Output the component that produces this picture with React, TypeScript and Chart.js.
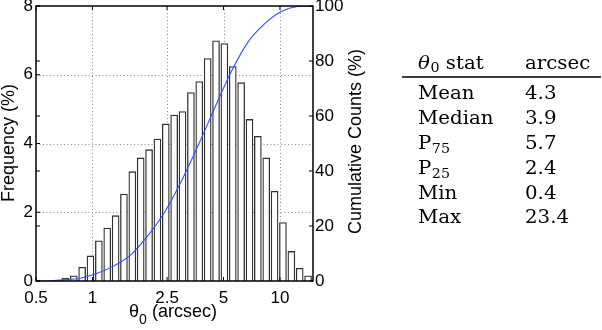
import React, { useEffect, useRef } from 'react';
import { Chart, registerables } from 'chart.js';

Chart.register(...registerables);

// Histogram bins (log-spaced bin centres, arcsec) and frequency (%)
const binCenters = [
  0.717, 0.795, 0.881, 0.976, 1.082, 1.199, 1.329, 1.472, 1.632, 1.808,
  2.004, 2.221, 2.461, 2.727, 3.022, 3.35, 3.712, 4.114, 4.56, 5.053,
  5.6, 6.206, 6.878, 7.621, 8.446, 9.359, 10.37, 11.5, 12.74, 14.12,
];
const frequency = [
  0.08, 0.15, 0.4, 0.73, 1.17, 1.54, 1.9, 2.53, 3.18, 3.58,
  3.82, 4.13, 4.57, 4.83, 4.93, 5.48, 5.8, 6.47, 6.99, 6.91,
  6.24, 5.77, 4.7, 4.21, 3.58, 2.61, 1.7, 0.86, 0.37, 0.15,
];

// Cumulative counts curve
const cumX = [0.5, 0.6, 0.7, 0.86, 1.06, 1.3, 1.6, 1.96, 2.41, 2.95, 3.7, 4.45, 5.47, 6.72, 8.24, 10.1, 12.4, 15];
const cumPct = [0, 0.1, 0.4, 1.0, 2.8, 5.5, 9.5, 16.2, 24.7, 35.7, 50.0, 62.4, 75.8, 86.7, 93.4, 97.9, 99.8, 100];

const xTicks = [0.5, 1, 2.5, 5, 10];
const xTickLabels = ['0.5', '1', '2.5', '5', '10'];
const xGrid = [1, 2.5, 5, 10];
const freqTicks = [0, 2, 4, 6, 8];
const freqGrid = [2, 4, 6];
const cumTicks = [0, 20, 40, 60, 80, 100];

// Stats table
const statNames = ['Mean', 'Median', 'P', 'P', 'Min', 'Max'];
const statSubs = ['', '', '75', '25', '', ''];
const statValues = ['4.3', '3.9', '5.7', '2.4', '0.4', '23.4'];

const SANS = '"Liberation Sans", Arial, Helvetica, sans-serif';
const SERIF = '"DejaVu Serif", serif';

function drawStretched(ctx: CanvasRenderingContext2D, text: string, x: number, y: number, font: string, sx: number) {
  ctx.save();
  ctx.font = font;
  ctx.textAlign = 'left';
  ctx.textBaseline = 'alphabetic';
  ctx.translate(x, y);
  ctx.scale(sx, 1);
  ctx.fillText(text, 0, 0);
  const w = ctx.measureText(text).width * sx;
  ctx.restore();
  return w;
}

const decor = {
  id: 'decor',
  beforeDatasetsDraw(chart: any) {
    const { ctx, chartArea: a, scales } = chart;
    ctx.save();
    ctx.strokeStyle = '#8a8a8a';
    ctx.lineWidth = 1;
    ctx.setLineDash([1, 2.5]);
    ctx.beginPath();
    for (const v of xGrid) {
      const x = Math.round(scales.x.getPixelForValue(v)) + 0.5;
      ctx.moveTo(x, a.top);
      ctx.lineTo(x, a.bottom);
    }
    for (const v of freqGrid) {
      const y = Math.round(scales.y.getPixelForValue(v)) + 0.5;
      ctx.moveTo(a.left, y);
      ctx.lineTo(a.right, y);
    }
    ctx.stroke();
    ctx.restore();
  },
  afterDatasetsDraw(chart: any) {
    const { ctx, chartArea: a, scales } = chart;
    ctx.save();
    ctx.strokeStyle = '#000';
    ctx.lineWidth = 1.5;
    ctx.setLineDash([]);
    ctx.beginPath();
    ctx.rect(a.left, a.top, a.right - a.left, a.bottom - a.top);
    ctx.stroke();
    ctx.lineWidth = 1;
    ctx.beginPath();
    const L = 4;
    for (const v of xTicks) {
      const x = scales.x.getPixelForValue(v);
      ctx.moveTo(x, a.bottom);
      ctx.lineTo(x, a.bottom - L);
      ctx.moveTo(x, a.top);
      ctx.lineTo(x, a.top + L);
    }
    for (const v of freqTicks) {
      const y = scales.y.getPixelForValue(v);
      ctx.moveTo(a.left, y);
      ctx.lineTo(a.left + L, y);
    }
    for (const v of cumTicks) {
      const y = scales.y1.getPixelForValue(v);
      ctx.moveTo(a.left, y);
      ctx.lineTo(a.left + L, y);
      ctx.moveTo(a.right, y);
      ctx.lineTo(a.right - L, y);
    }
    ctx.stroke();
    ctx.restore();
  },
  afterDraw(chart: any) {
    const { ctx } = chart;
    ctx.save();
    ctx.fillStyle = '#000';
    // Left axis title
    ctx.save();
    ctx.font = `18px ${SANS}`;
    ctx.textAlign = 'center';
    ctx.textBaseline = 'alphabetic';
    ctx.translate(14, 143);
    ctx.rotate(-Math.PI / 2);
    ctx.fillText('Frequency (%)', 0, 0);
    ctx.restore();
    // Right axis title
    ctx.save();
    ctx.font = `18px ${SANS}`;
    ctx.textAlign = 'center';
    ctx.textBaseline = 'alphabetic';
    ctx.translate(361, 141.5);
    ctx.rotate(-Math.PI / 2);
    ctx.fillText('Cumulative Counts (%)', 0, 0);
    ctx.restore();
    // X axis title with subscript
    ctx.save();
    const big = `18px ${SANS}`;
    const small = `14px ${SANS}`;
    ctx.font = big;
    const w1 = ctx.measureText('\u03b8').width;
    const w3 = ctx.measureText(' (arcsec)').width;
    ctx.font = small;
    const w2 = ctx.measureText('0').width;
    const total = w1 + w2 + w3;
    let x = 173 - total / 2;
    const base = 317;
    ctx.textAlign = 'left';
    ctx.textBaseline = 'alphabetic';
    ctx.font = big;
    ctx.fillText('\u03b8', x, base);
    x += w1;
    ctx.font = small;
    ctx.fillText('0', x, base + 7);
    x += w2;
    ctx.font = big;
    ctx.fillText(' (arcsec)', x, base);
    ctx.restore();

    // Stats table
    const sx = 1.1;
    const fs = 18;
    const font = `${fs}px ${SERIF}`;
    const subFont = `13px ${SERIF}`;
    const col1 = 418;
    const col2 = 525;
    const headBase = 68.5;
    let hx = col1;
    hx += drawStretched(ctx, '\u03b8', hx, headBase, `italic ${fs}px ${SERIF}`, sx);
    hx += drawStretched(ctx, '0', hx + 0.5, headBase + 3, subFont, sx) + 0.5;
    drawStretched(ctx, ' stat', hx, headBase, font, sx);
    drawStretched(ctx, 'arcsec', col2, headBase, font, sx);
    ctx.beginPath();
    ctx.strokeStyle = '#000';
    ctx.lineWidth = 1.6;
    ctx.moveTo(402, 77);
    ctx.lineTo(601, 77);
    ctx.stroke();
    const rowBase = [98.5, 123.5, 148.5, 173.5, 198.5, 223];
    statNames.forEach((name, i) => {
      const yb = rowBase[i];
      const w = drawStretched(ctx, name, col1, yb, font, sx);
      if (statSubs[i]) drawStretched(ctx, statSubs[i], col1 + w + 0.5, yb + 4, subFont, sx);
      drawStretched(ctx, statValues[i], col2, yb, font, sx);
    });
    ctx.restore();
  },
};

export default function App() {
  const ref = useRef<HTMLCanvasElement>(null);
  useEffect(() => {
    const tickFont = { family: SANS, size: 17 };
    const chart = new Chart(ref.current as HTMLCanvasElement, {
      type: 'bar',
      data: {
        datasets: [
          {
            type: 'line',
            data: cumX.map((x, i) => ({ x, y: cumPct[i] })),
            xAxisID: 'x',
            yAxisID: 'y1',
            borderColor: '#2f50ff',
            borderWidth: 1.1,
            pointRadius: 0,
            cubicInterpolationMode: 'monotone',
            fill: false,
            order: 0,
          } as any,
          {
            type: 'bar',
            data: binCenters.map((x, i) => ({ x, y: frequency[i] })),
            xAxisID: 'x',
            yAxisID: 'y',
            backgroundColor: '#ffffff',
            borderColor: '#303030',
            borderWidth: 1.3,
            barThickness: 7,
            order: 1,
          } as any,
        ],
      },
      options: {
        responsive: false,
        animation: false,
        layout: { padding: { top: 6, right: 222, left: 0, bottom: 0 } },
        plugins: { legend: { display: false }, tooltip: { enabled: false } },
        scales: {
          x: {
            type: 'logarithmic',
            position: 'bottom',
            min: 0.5,
            max: 15,
            afterBuildTicks: (s: any) => {
              s.ticks = xTicks.map((v) => ({ value: v }));
            },
            afterFit: (s: any) => {
              s.height = 49;
              s.paddingLeft = 0;
              s.paddingRight = 0;
            },
            grid: { display: false, drawTicks: false },
            border: { display: false },
            ticks: {
              autoSkip: false,
              maxRotation: 0,
              minRotation: 0,
              padding: 7,
              color: '#000',
              font: tickFont,
              callback: (_v: any, i: number) => xTickLabels[i],
            },
          },
          y: {
            type: 'linear',
            position: 'left',
            min: 0,
            max: 8,
            afterBuildTicks: (s: any) => {
              s.ticks = freqTicks.map((v) => ({ value: v }));
            },
            afterFit: (s: any) => {
              s.width = 36;
              s.paddingTop = 0;
              s.paddingBottom = 0;
            },
            grid: { display: false, drawTicks: false },
            border: { display: false },
            ticks: { padding: 3, color: '#000', font: tickFont },
          },
          y1: {
            type: 'linear',
            position: 'right',
            min: 0,
            max: 100,
            afterBuildTicks: (s: any) => {
              s.ticks = cumTicks.map((v) => ({ value: v }));
            },
            afterFit: (s: any) => {
              s.width = 67;
              s.paddingTop = 0;
              s.paddingBottom = 0;
            },
            grid: { display: false, drawTicks: false },
            border: { display: false },
            ticks: { padding: 2, color: '#000', font: tickFont },
          },
        },
      } as any,
      plugins: [decor],
    });
    return () => chart.destroy();
  }, []);
  return (
    <div style={{ position: 'fixed', left: 0, top: 0, width: 602, height: 330, background: '#fff' }}>
      <canvas ref={ref} width={602} height={330} style={{ display: 'block', width: 602, height: 330 }} />
    </div>
  );
}
